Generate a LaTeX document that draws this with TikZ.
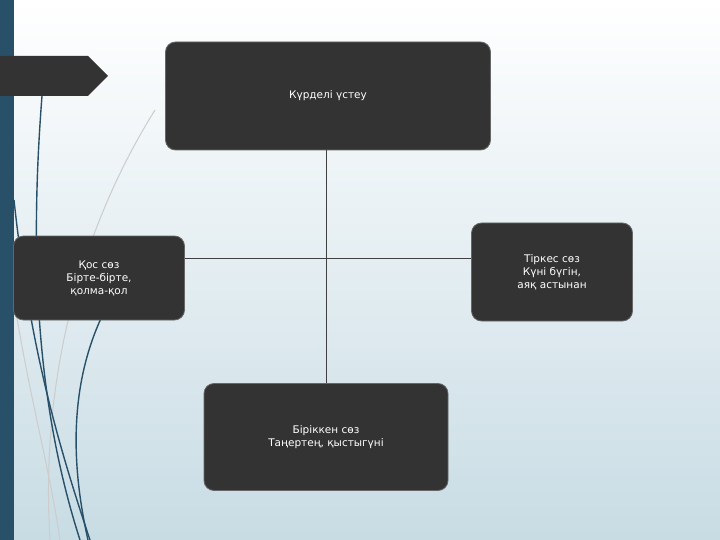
\documentclass[tikz,border=0pt]{standalone}
\usepackage{fontspec}
\setmainfont{DejaVu Sans}
\definecolor{teal}{RGB}{40,80,105}
\definecolor{bgb}{RGB}{200,220,228}
\begin{document}
\begin{tikzpicture}[x=1pt,y=-1pt,
 box/.style={draw=black!60,line width=0.8pt,fill=black!80,rounded corners=10pt,text=white,align=center,font=\fontsize{10.5}{13}\selectfont,inner sep=0pt},
 link/.style={draw=black!75,line width=0.5pt},
 deco/.style={line width=1.4pt,draw=teal},
 decog/.style={line width=1pt,draw=black!20}]
\useasboundingbox (0,0) rectangle (720,540);
\shade[top color=white,bottom color=bgb] (0,0) rectangle (720,540);
\fill[teal] (0,0) rectangle (14,540);
\draw[decog] (155,110) .. controls (80,230) and (40,380) .. (50,540);
\draw[decog] (14,300) .. controls (30,400) and (50,470) .. (60,540);
\draw[deco] (42,96) .. controls (30,250) and (35,400) .. (80,540);
\draw[deco] (14,200) .. controls (30,350) and (60,450) .. (90,540);
\draw[deco] (105,310) .. controls (70,380) and (70,460) .. (88,540);
\fill[black!80] (0,56) -- (88,56) -- (108,76) -- (88,96) -- (0,96) -- cycle;
\node[box,minimum width=325pt,minimum height=108pt] (top) at (328,96) {Күрделі үстеу};
\node[box,minimum width=171pt,minimum height=84pt] (left) at (99,278) {Қос сөз\\Бірте-бірте,\\қолма-қол};
\node[box,minimum width=161pt,minimum height=98pt] (right) at (552,272) {Тіркес сөз\\Күні бүгін,\\аяқ астынан};
\node[box,minimum width=244pt,minimum height=107pt] (bot) at (326,437) {Біріккен сөз\\Таңертең, қыстыгүні};
\coordinate (c) at (326,258);
\draw[link] (top.south -| c) -- (bot.north -| c);
\draw[link] (left.east |- c) -- (right.west |- c);
\end{tikzpicture}
\end{document}
